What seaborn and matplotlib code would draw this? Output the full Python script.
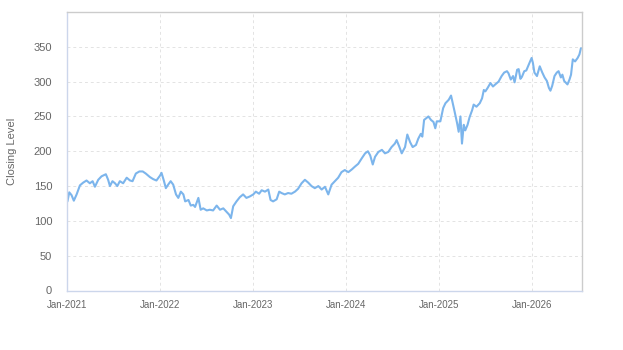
import pandas as pd
import seaborn as sns
import matplotlib.pyplot as plt
import matplotlib.dates as mdates

# closing levels (roughly every 10 days)
dates = [
    "2021-01-01", "2021-01-08", "2021-01-17", "2021-01-26", "2021-02-06", "2021-02-19",
    "2021-03-04", "2021-03-17", "2021-03-30", "2021-04-10", "2021-04-19", "2021-05-02",
    "2021-05-15", "2021-06-01", "2021-06-10", "2021-06-17", "2021-06-27", "2021-07-07",
    "2021-07-16", "2021-07-26", "2021-08-08", "2021-08-22", "2021-09-04", "2021-09-14",
    "2021-09-27", "2021-10-11", "2021-10-24", "2021-11-05", "2021-11-21", "2021-12-04",
    "2021-12-17", "2021-12-31",
    "2022-01-06", "2022-01-15", "2022-01-23", "2022-02-01", "2022-02-11", "2022-02-21",
    "2022-03-04", "2022-03-13", "2022-03-23", "2022-04-02", "2022-04-09", "2022-04-22",
    "2022-05-01", "2022-05-11", "2022-05-18", "2022-05-31", "2022-06-09", "2022-06-19",
    "2022-07-03", "2022-07-15", "2022-07-28", "2022-08-11", "2022-08-24", "2022-09-06",
    "2022-09-19", "2022-09-29", "2022-10-06", "2022-10-15", "2022-10-28", "2022-11-10",
    "2022-11-23", "2022-12-06", "2022-12-19",
    "2023-01-02", "2023-01-12", "2023-01-25", "2023-02-04", "2023-02-17", "2023-03-02",
    "2023-03-11", "2023-03-21", "2023-04-04", "2023-04-14", "2023-04-23", "2023-05-06",
    "2023-05-19", "2023-06-01", "2023-06-15", "2023-06-27", "2023-07-11", "2023-07-24",
    "2023-08-06", "2023-08-19", "2023-09-01", "2023-09-15", "2023-09-28", "2023-10-11",
    "2023-10-24", "2023-11-06", "2023-11-19", "2023-12-02", "2023-12-15", "2023-12-28",
    "2024-01-11", "2024-01-25", "2024-02-06", "2024-02-19", "2024-03-04", "2024-03-17",
    "2024-03-28", "2024-04-06", "2024-04-16", "2024-04-25", "2024-05-08", "2024-05-22",
    "2024-06-03", "2024-06-16", "2024-06-29", "2024-07-12", "2024-07-19", "2024-07-29",
    "2024-08-08", "2024-08-21", "2024-08-30", "2024-09-10", "2024-09-20", "2024-10-03",
    "2024-10-12", "2024-10-22", "2024-10-28", "2024-11-04", "2024-11-14", "2024-11-21",
    "2024-12-01", "2024-12-11", "2024-12-18", "2024-12-24",
    "2025-01-07", "2025-01-18", "2025-01-27", "2025-02-09", "2025-02-18", "2025-02-26",
    "2025-03-04", "2025-03-14", "2025-03-20", "2025-03-27", "2025-04-02", "2025-04-09",
    "2025-04-15", "2025-04-24", "2025-05-02", "2025-05-12", "2025-05-18", "2025-05-29",
    "2025-06-11", "2025-06-20", "2025-06-27", "2025-07-03", "2025-07-12", "2025-07-23",
    "2025-08-02", "2025-08-11", "2025-08-24", "2025-09-05", "2025-09-15", "2025-09-26",
    "2025-10-02", "2025-10-11", "2025-10-20", "2025-10-26", "2025-11-05", "2025-11-11",
    "2025-11-18", "2025-11-24", "2025-12-03", "2025-12-11", "2025-12-20", "2025-12-26",
    "2026-01-01", "2026-01-06", "2026-01-12", "2026-01-22", "2026-02-02", "2026-02-12",
    "2026-02-21", "2026-03-02", "2026-03-10", "2026-03-16", "2026-03-23", "2026-04-01",
    "2026-04-10", "2026-04-17", "2026-04-26", "2026-05-02", "2026-05-09", "2026-05-22",
    "2026-05-30", "2026-06-05", "2026-06-12", "2026-06-21", "2026-07-01", "2026-07-08",
    "2026-07-14",
]
closing = [
    128, 141, 137, 129, 138, 151,
    155, 158, 154, 157, 149, 159,
    164, 167, 159, 150, 157, 154,
    150, 157, 154, 162, 158, 157,
    168, 171, 171, 168, 163, 160,
    158, 165,
    169, 158, 147, 152, 157, 152,
    138, 133, 142, 138, 128, 130,
    122, 123, 120, 133, 116, 118,
    115, 116, 115, 122, 116, 118,
    113, 109, 104, 121, 128, 134,
    138, 133, 135,
    138, 142, 139, 144, 142, 145,
    130, 128, 131, 142, 140, 138,
    140, 139, 142, 146, 154, 159,
    155, 150, 147, 150, 145, 149,
    138, 152, 157, 162, 170, 173,
    170, 174, 178, 182, 190, 197,
    200, 194, 181, 192, 199, 202,
    197, 199, 206, 211, 216, 207,
    197, 206, 224, 213, 206, 209,
    218, 225, 221, 245, 248, 250,
    245, 242, 233, 243,
    243, 262, 269, 274, 280, 267,
    257, 240, 228, 250, 211, 238,
    230, 238, 249, 259, 267, 264,
    269, 276, 288, 286, 291, 298,
    293, 296, 300, 308, 313, 315,
    312, 303, 308, 299, 317, 318,
    304, 307, 315, 316, 324, 329,
    334, 327, 313, 308, 322, 313,
    306, 301, 291, 287, 294, 308,
    313, 315, 306, 310, 301, 296,
    303, 310, 332, 329, 334, 339,
    348,
]
year_ticks = ["2021-01-01", "2022-01-01", "2023-01-01", "2024-01-01", "2025-01-01", "2026-01-01"]
y_ticks = [0, 50, 100, 150, 200, 250, 300, 350]

df = pd.DataFrame({"Date": pd.to_datetime(dates), "Close": closing})

sns.set_style("white")
plt.rcParams["font.family"] = ["Liberation Sans", "DejaVu Sans"]

fig = plt.figure(figsize=(6.23, 3.5), dpi=100)
ax = fig.add_axes([0.1083, 0.17, 0.8254, 0.7957])

sns.lineplot(data=df, x="Date", y="Close", ax=ax, color="#7cb5ec", linewidth=1.5)

ax.set_xlim(pd.Timestamp("2021-01-01"), pd.Timestamp("2026-07-17"))
ax.set_ylim(0, 400)
ax.set_yticks(y_ticks)
ax.set_xticks(pd.to_datetime(year_ticks))
ax.xaxis.set_major_formatter(mdates.DateFormatter("%b-%Y"))

# light dashed grid, Highcharts-like frame
ax.grid(True, color="#e3e3e3", linestyle=(0, (3, 3)), linewidth=0.7)
for side in ["left", "bottom"]:
    ax.spines[side].set_color("#ccd6eb")
for side in ["top", "right"]:
    ax.spines[side].set_color("#cccccc")
for s in ax.spines.values():
    s.set_linewidth(1)

ax.tick_params(axis="y", length=0, pad=11, labelsize=8, labelcolor="#666666")
ax.tick_params(axis="x", length=4, width=1, color="#ccd6eb", pad=3, labelsize=7, labelcolor="#666666")

ax.set_xlabel("")
ax.set_ylabel("Closing Level", fontsize=8, color="#666666", labelpad=12)

fig.savefig("out.png", dpi=100)
